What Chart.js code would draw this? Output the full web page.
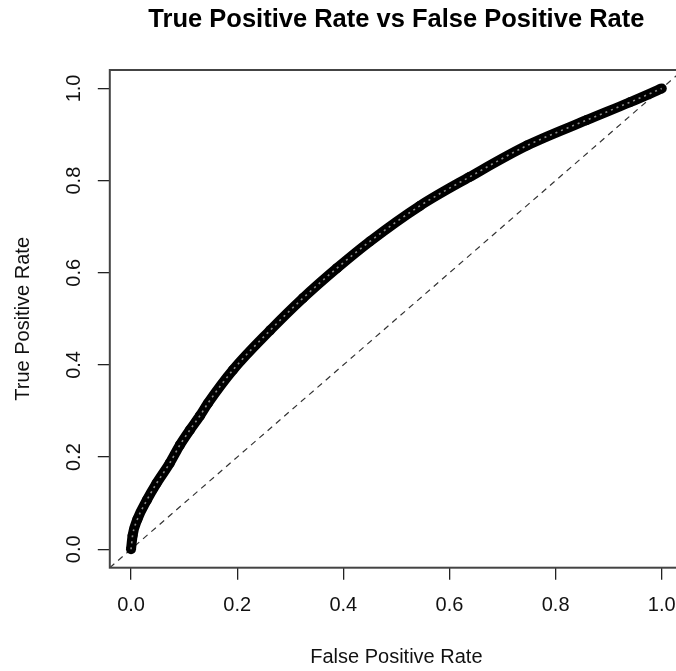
<!DOCTYPE html>
<html>
<head>
<meta charset="utf-8">
<script src="https://cdn.jsdelivr.net/npm/chart.js@4"></script>
<style>
  html, body { margin: 0; padding: 0; background: #fff; overflow: hidden; }
  #wrap { width: 690px; height: 671px; position: relative; }
</style>
</head>
<body>
<div id="wrap"><canvas id="roc-chart"></canvas></div>
<script>
// ROC curve
const fpr = [0.0, 0.003, 0.012, 0.030, 0.048, 0.073, 0.092, 0.111, 0.130, 0.145,
  0.192, 0.262, 0.324, 0.388, 0.450, 0.544, 0.638, 0.746, 0.858, 0.940, 1.0];
const tpr = [0.0, 0.030, 0.065, 0.107, 0.143, 0.187, 0.226, 0.259, 0.290, 0.317,
  0.389, 0.475, 0.545, 0.610, 0.668, 0.745, 0.808, 0.876, 0.931, 0.970, 1.0];

// reference line y = x across the whole plot region
const diagonal = [-0.04, 1.04];

const xTicks = [0, 0.2, 0.4, 0.6, 0.8, 1.0];
const yTicks = [0, 0.2, 0.4, 0.6, 0.8, 1.0];

const fontFamily = '"Liberation Sans", Arial, sans-serif';

const boxPlugin = {
  id: 'plotBox',
  afterDraw(chart) {
    const {ctx, chartArea: a} = chart;
    ctx.save();
    ctx.strokeStyle = '#444';
    ctx.lineWidth = 2;
    ctx.strokeRect(a.left, a.top, a.right - a.left, a.bottom - a.top);
    ctx.restore();
  }
};

const app = () => {
  const rocPoints = fpr.map((v, i) => ({x: v, y: tpr[i]}));

  const rocChart = new Chart(document.getElementById('roc-chart'), {
    type: 'scatter',
    data: {
      datasets: [{
        data: diagonal.map((v, i) => ({x: v, y: diagonal[i]})),
        showLine: true,
        borderColor: '#333',
        borderWidth: 1.2,
        borderDash: [6, 5],
        pointRadius: 0,
        order: 3
      }, {
        // thick band of overlapping open circles
        data: rocPoints,
        showLine: true,
        borderColor: '#000',
        borderWidth: 10,
        cubicInterpolationMode: 'monotone',
        pointRadius: 5,
        pointBorderWidth: 0,
        pointBackgroundColor: '#000',
        order: 2
      }, {
        // speckles from the circle centres
        data: rocPoints,
        showLine: true,
        borderColor: 'rgba(255,255,255,0.55)',
        borderWidth: 1.6,
        borderDash: [2, 4],
        cubicInterpolationMode: 'monotone',
        pointRadius: 0,
        order: 1
      }]
    },
    options: {
      responsive: true,
      maintainAspectRatio: false,
      animation: false,
      layout: { padding: { left: 0, right: 7, top: 0, bottom: 0 } },
      plugins: {
        legend: { display: false },
        tooltip: { enabled: false },
        title: {
          display: true,
          fullSize: false,
          text: 'True Positive Rate vs False Positive Rate',
          color: '#000',
          font: { family: fontFamily, size: 25.5, weight: 'bold', lineHeight: 1.2 },
          padding: { top: 5, bottom: 34.4 }
        }
      },
      scales: {
        x: {
          type: 'linear',
          min: -0.04,
          max: 1.04,
          afterBuildTicks: scale => { scale.ticks = xTicks.map(v => ({value: v})); },
          afterFit: scale => { scale.height = 103.3; },
          border: { display: false },
          grid: { drawOnChartArea: false, drawTicks: true, tickLength: 12, color: '#222', lineWidth: 1.3 },
          ticks: {
            color: '#111',
            padding: 14,
            maxRotation: 0,
            font: { family: fontFamily, size: 20 },
            callback: v => v.toFixed(1)
          },
          title: {
            display: true,
            text: 'False Positive Rate',
            color: '#111',
            font: { family: fontFamily, size: 20, lineHeight: 1.2 },
            padding: { top: 0, bottom: 2 }
          }
        },
        y: {
          type: 'linear',
          min: -0.04,
          max: 1.04,
          afterBuildTicks: scale => { scale.ticks = yTicks.map(v => ({value: v})); },
          afterFit: scale => { scale.width = 109.8; },
          border: { display: false },
          grid: { drawOnChartArea: false, drawTicks: true, tickLength: 12, color: '#222', lineWidth: 1.3 },
          ticks: {
            color: '#111',
            padding: 9,
            minRotation: 90,
            maxRotation: 90,
            crossAlign: 'center',
            font: { family: fontFamily, size: 20 },
            callback: v => v.toFixed(1)
          },
          title: {
            display: true,
            text: 'True Positive Rate',
            color: '#111',
            font: { family: fontFamily, size: 20, lineHeight: 1.2 },
            padding: { top: 11, bottom: 0 }
          }
        }
      }
    },
    plugins: [boxPlugin]
  });
};

app();
</script>
</body>
</html>
